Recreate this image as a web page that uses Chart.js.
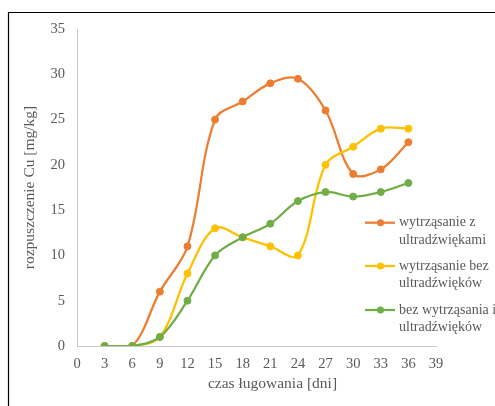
<!DOCTYPE html>
<html>
<head>
<meta charset="utf-8">
<script src="https://cdn.jsdelivr.net/npm/chart.js@4.4.1/dist/chart.umd.min.js"></script>
<style>
  html, body { margin: 0; padding: 0; background: #fff; }
</style>
</head>
<body>
<canvas id="cuChart" width="495" height="406"></canvas>
<script>
// dni ługowania
var days = [3, 6, 9, 12, 15, 18, 21, 24, 27, 30, 33, 36];
// rozpuszczenie Cu [mg/kg]
var zUltradzwiekami = [0, 0, 6, 11, 25, 27, 29, 29.5, 26, 19, 19.5, 22.5];
var bezUltradzwiekow = [0, 0, 1, 8, 13, 12, 11, 10, 20, 22, 24, 24];
var bezWytrzasania = [0, 0, 1, 5, 10, 12, 13.5, 16, 17, 16.5, 17, 18];
var seriesLabels = [
  ['wytrząsanie z', 'ultradźwiękami'],
  ['wytrząsanie bez', 'ultradźwięków'],
  ['bez wytrząsania i', 'ultradźwięków']
];
var seriesColors = ['#ED7D31', '#FFC000', '#70AD47'];

var FONT = "'Liberation Serif', 'Times New Roman', serif";
var TEXT = '#595959';

function toPoints(vals) {
  return days.map(function (d, i) { return { x: d, y: vals[i] }; });
}

function makeSet(i, vals) {
  return {
    label: seriesLabels[i].join(' '),
    data: toPoints(vals),
    borderColor: seriesColors[i],
    backgroundColor: seriesColors[i],
    pointBackgroundColor: seriesColors[i],
    pointBorderColor: seriesColors[i],
    borderWidth: 2.25,
    pointRadius: 3.5,
    pointBorderWidth: 1,
    tension: 0.35,
    order: 3 - i
  };
}

// ramka wykresu (lewa i górna krawędź)
var framePlugin = {
  id: 'frame',
  beforeDraw: function (chart) {
    var ctx = chart.ctx;
    ctx.save();
    ctx.strokeStyle = '#000';
    ctx.lineWidth = 1.2;
    ctx.beginPath();
    ctx.moveTo(8.5, chart.height);
    ctx.lineTo(8.5, 12.5);
    ctx.lineTo(chart.width, 12.5);
    ctx.stroke();
    ctx.restore();
  }
};

// legenda po prawej, dwuwierszowe etykiety
var sideLegend = {
  id: 'sideLegend',
  afterDraw: function (chart) {
    var ctx = chart.ctx;
    var rows = [222.7, 266, 310];
    ctx.save();
    ctx.font = '14px ' + FONT;
    ctx.textBaseline = 'middle';
    seriesLabels.forEach(function (lines, i) {
      var y = rows[i];
      ctx.strokeStyle = seriesColors[i];
      ctx.lineWidth = 2.25;
      ctx.beginPath();
      ctx.moveTo(365, y);
      ctx.lineTo(395, y);
      ctx.stroke();
      ctx.fillStyle = seriesColors[i];
      ctx.beginPath();
      ctx.arc(380.5, y, 3.5, 0, Math.PI * 2);
      ctx.fill();
      ctx.fillStyle = TEXT;
      ctx.textAlign = 'left';
      lines.forEach(function (t, k) {
        ctx.fillText(t, 399, y + k * 17.3);
      });
    });
    ctx.restore();
  }
};

// tytuł osi X
var xTitle = {
  id: 'xTitle',
  afterDraw: function (chart) {
    var ctx = chart.ctx;
    ctx.save();
    ctx.font = '15.5px ' + FONT;
    ctx.fillStyle = TEXT;
    ctx.textAlign = 'center';
    ctx.textBaseline = 'middle';
    ctx.fillText('czas ługowania [dni]', 272.5, 384);
    ctx.restore();
  }
};

new Chart(document.getElementById('cuChart').getContext('2d'), {
  type: 'line',
  data: {
    datasets: [
      makeSet(0, zUltradzwiekami),
      makeSet(1, bezUltradzwiekow),
      makeSet(2, bezWytrzasania)
    ]
  },
  options: {
    responsive: false,
    animation: false,
    layout: { padding: { left: 17, top: 29, right: 59, bottom: 0 } },
    plugins: {
      legend: { display: false },
      tooltip: { enabled: false }
    },
    scales: {
      x: {
        type: 'linear',
        min: 0,
        max: 39,
        afterFit: function (s) { s.height = 60; },
        ticks: { stepSize: 3, color: TEXT, font: { family: FONT, size: 14.5 }, padding: 9, maxRotation: 0 },
        grid: { drawOnChartArea: false, drawTicks: false },
        border: { color: '#c8c8c8', width: 1 }
      },
      y: {
        min: 0,
        max: 35,
        afterFit: function (s) { s.width = 60; },
        ticks: { stepSize: 5, color: TEXT, font: { family: FONT, size: 14.5 }, padding: 12 },
        grid: { drawOnChartArea: false, drawTicks: false },
        border: { color: '#c8c8c8', width: 1 },
        title: {
          display: true,
          text: 'rozpuszczenie Cu [mg/kg]',
          color: TEXT,
          font: { family: FONT, size: 15.5 },
          padding: 4
        }
      }
    }
  },
  plugins: [framePlugin, sideLegend, xTitle]
});
</script>
</body>
</html>
